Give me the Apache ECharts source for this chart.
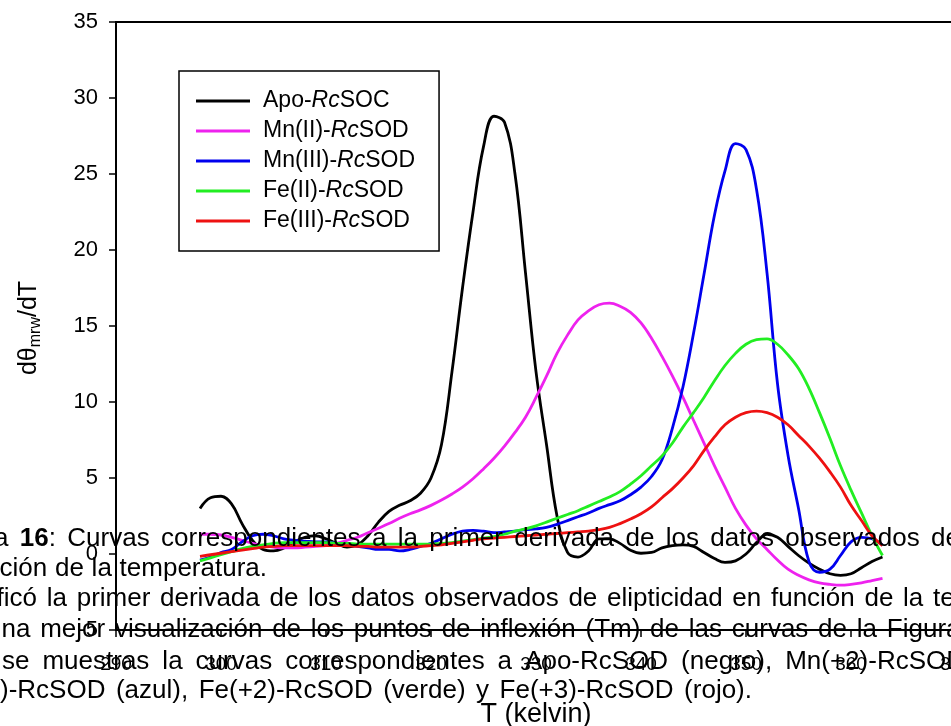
<!DOCTYPE html>
<html>
<head>
<meta charset="utf-8">
<script src="https://cdn.jsdelivr.net/npm/echarts@6/dist/echarts.min.js"></script>
<style>
  html, body { margin: 0; padding: 0; background: #fff; }
  #chart { width: 951px; height: 726px; }
</style>
</head>
<body>
<div id="chart"></div>
<script>
// Temperature grid (K) and first-derivative curves dθ/dT for each sample
const temps = [298, 299, 300, 301, 302, 303, 304, 305, 306, 307,
               308, 309, 310, 311, 312, 313, 314, 315, 316, 317,
               318, 319, 320, 321, 322, 323, 324, 325, 326, 327,
               328, 329, 330, 331, 332, 333, 334, 335, 336, 337,
               338, 339, 340, 341, 342, 343, 344, 345, 346, 347,
               348, 349, 350, 351, 352, 353, 354, 355, 356, 357,
               358, 359, 360, 361, 362, 363];

const apoRcSOC = [3.0, 3.7, 3.8, 3.3, 2.0, 0.9, 0.3, 0.2, 0.4, 0.8,
                  1.1, 1.2, 1.0, 0.7, 0.45, 0.6, 1.2, 2.1, 2.8, 3.2,
                  3.5, 4.0, 5.0, 7.2, 12.0, 17.5, 22.5, 26.8, 28.8, 28.4,
                  25.0, 18.5, 12.0, 7.2, 2.5, 0.1, -0.2, 0.2, 1.0, 1.0,
                  0.7, 0.25, 0.05, 0.1, 0.4, 0.55, 0.6, 0.5, 0.1, -0.3,
                  -0.55, -0.45, 0.0, 0.75, 1.3, 1.1, 0.5, -0.1, -0.6, -1.0,
                  -1.3, -1.4, -1.3, -0.9, -0.5, -0.2];

const mn2RcSOD = [1.3, 1.3, 1.25, 1.1, 0.9, 0.7, 0.55, 0.45, 0.4, 0.4,
                  0.45, 0.5, 0.55, 0.7, 0.9, 1.1, 1.4, 1.7, 2.0, 2.35,
                  2.65, 2.9, 3.2, 3.55, 3.95, 4.4, 4.95, 5.6, 6.3, 7.1,
                  8.0, 9.0, 10.3, 11.7, 13.2, 14.4, 15.4, 16.0, 16.4, 16.5,
                  16.3, 15.9, 15.2, 14.2, 13.0, 11.7, 10.3, 8.8, 7.3, 5.8,
                  4.4, 3.0, 1.9, 1.0, 0.3, -0.4, -1.0, -1.4, -1.7, -1.9,
                  -2.0, -2.05, -2.0, -1.9, -1.75, -1.6];

const mn3RcSOD = [-0.4, -0.2, 0.1, 0.3, 0.8, 1.2, 1.3, 1.2, 1.0, 0.9,
                  0.85, 0.8, 0.8, 0.7, 0.6, 0.5, 0.4, 0.3, 0.3, 0.2,
                  0.3, 0.5, 0.7, 1.0, 1.3, 1.5, 1.55, 1.5, 1.4, 1.45,
                  1.5, 1.6, 1.65, 1.75, 1.95, 2.2, 2.45, 2.7, 3.0, 3.25,
                  3.5, 3.9, 4.4, 5.1, 6.2, 8.3, 11.0, 14.5, 18.4, 22.3,
                  25.2, 27.0, 26.6, 24.0, 18.5, 11.2, 6.5, 3.0, -0.5, -1.2,
                  -1.0, -0.1, 0.8, 1.1, 1.0, 0.6];

const fe2RcSOD = [-0.45, -0.25, -0.05, 0.15, 0.35, 0.5, 0.6, 0.7, 0.75, 0.75,
                  0.75, 0.75, 0.75, 0.7, 0.7, 0.65, 0.65, 0.65, 0.65, 0.65,
                  0.65, 0.65, 0.65, 0.7, 0.75, 0.85, 0.95, 1.05, 1.15, 1.3,
                  1.5, 1.65, 1.85, 2.1, 2.35, 2.6, 2.85, 3.15, 3.45, 3.75,
                  4.1, 4.6, 5.15, 5.8, 6.45, 7.3, 8.35, 9.3, 10.3, 11.4,
                  12.4, 13.2, 13.8, 14.1, 14.15, 13.8, 13.1, 12.2, 10.9, 9.3,
                  7.6, 5.8, 4.2, 2.7, 1.2, -0.1];

const fe3RcSOD = [-0.15, -0.05, 0.05, 0.15, 0.25, 0.35, 0.45, 0.5, 0.55, 0.55,
                  0.55, 0.55, 0.55, 0.55, 0.55, 0.5, 0.5, 0.45, 0.45, 0.45,
                  0.45, 0.5, 0.55, 0.6, 0.7, 0.8, 0.9, 1.0, 1.05, 1.1,
                  1.15, 1.2, 1.25, 1.3, 1.35, 1.4, 1.45, 1.5, 1.6, 1.75,
                  2.0, 2.3, 2.65, 3.1, 3.7, 4.3, 5.0, 5.8, 6.8, 7.7,
                  8.5, 9.0, 9.3, 9.4, 9.3, 9.0, 8.5, 7.8, 7.1, 6.3,
                  5.4, 4.4, 3.2, 2.2, 1.2, 0.55];

const seriesNames = ['Apo-RcSOC', 'Mn(II)-RcSOD', 'Mn(III)-RcSOD', 'Fe(II)-RcSOD', 'Fe(III)-RcSOD'];
const seriesValues = [apoRcSOC, mn2RcSOD, mn3RcSOD, fe2RcSOD, fe3RcSOD];
const seriesColors = ['#000000', '#ee22ee', '#0000ee', '#22ee22', '#ee1111'];

// Caption paragraph that runs across the lower part of the figure
// ('*' marks bold runs). Each line is justified between its two edges.
const captionLines = [
  { text: 'a *16*: Curvas correspondientes a la primer derivada de los datos observados de', y: 539, x0: -6, x1: 960 },
  { text: 'ción de la temperatura.', y: 569, x0: -0.5, x1: 267 },
  { text: 'ficó la primer derivada de los datos observados de elipticidad en función de la te', y: 599, x0: -3.4, x1: 954.7 },
  { text: 'na mejor visualización de los puntos de inflexión (Tm) de las curvas de la Figura', y: 630, x0: 1.5, x1: 960.5 },
  { text: 'se muestras la curvas correspondientes a Apo-RcSOD (negro), Mn(+2)-RcSOD', y: 662, x0: 2, x1: 965 },
  { text: ')-RcSOD (azul), Fe(+2)-RcSOD (verde) y Fe(+3)-RcSOD (rojo).', y: 691, x0: 0, x1: 752 }
];

const FONT = '"Liberation Sans", Arial, Helvetica, sans-serif';
const BODY_SIZE = 26;

const measureCtx = document.createElement('canvas').getContext('2d');
function textWidth(s, bold) {
  measureCtx.font = (bold ? 'bold ' : '') + BODY_SIZE + 'px ' + FONT;
  return measureCtx.measureText(s).width;
}

function captionGraphics() {
  const out = [];
  const rich = {
    n: { fontSize: BODY_SIZE, fontFamily: FONT, fill: '#000' },
    b: { fontSize: BODY_SIZE, fontFamily: FONT, fontWeight: 'bold', fill: '#000' }
  };
  captionLines.forEach(line => {
    const words = line.text.split(' ').map(w => {
      const parts = w.split('*');
      let width = 0, str = '';
      parts.forEach((p, i) => {
        if (!p) return;
        const bold = i % 2 === 1;
        width += textWidth(p, bold);
        str += '{' + (bold ? 'b' : 'n') + '|' + p + '}';
      });
      return { width, str };
    });
    const total = words.reduce((s, w) => s + w.width, 0);
    const gap = words.length > 1 ? (line.x1 - line.x0 - total) / (words.length - 1) : 0;
    let x = line.x0;
    words.forEach(w => {
      out.push({
        type: 'text', x: x, y: line.y, z: 100, silent: true,
        style: { text: w.str, rich: rich, align: 'left', verticalAlign: 'middle',
                 fontSize: BODY_SIZE, fontFamily: FONT, fill: '#000' }
      });
      x += w.width + gap;
    });
  });
  return out;
}

function legendLabel(name) {
  const k = name.indexOf('Rc');
  return '{g|}{n|' + name.slice(0, k) + '}{i|Rc}{n|' + name.slice(k + 2) + '}';
}

const chart = echarts.init(document.getElementById('chart'), null, { renderer: 'canvas' });

chart.setOption({
  backgroundColor: '#ffffff',
  animation: false,
  grid: {
    left: 116, top: 22, width: 840, height: 608, outerBoundsMode: 'none',
    show: true, borderColor: '#000', borderWidth: 2, backgroundColor: 'transparent'
  },
  legend: {
    orient: 'vertical',
    left: 179, top: 71,
    padding: [18, 24, 18, 17],
    borderColor: '#000', borderWidth: 1.5,
    backgroundColor: '#fff',
    itemWidth: 54, itemHeight: 3, itemGap: 6,
    icon: 'rect',
    data: seriesNames,
    formatter: legendLabel,
    textStyle: {
      fontSize: 23, lineHeight: 24, color: '#000', fontFamily: FONT,
      rich: {
        g: { width: 8 },
        n: { fontSize: 23, fontFamily: FONT, color: '#000' },
        i: { fontSize: 23, fontFamily: FONT, color: '#000', fontStyle: 'italic' }
      }
    }
  },
  xAxis: {
    type: 'value', min: 290, max: 370, interval: 10,
    name: 'T (kelvin)', nameLocation: 'middle', nameGap: 71,
    nameTextStyle: { fontSize: 27, color: '#000', fontFamily: FONT },
    axisLine: { show: true, onZero: false, lineStyle: { color: '#000', width: 2 } },
    axisTick: { show: true, inside: false, length: 7, lineStyle: { color: '#000', width: 1.5 } },
    axisLabel: { fontSize: 19, color: '#000', fontFamily: FONT, margin: 25 },
    splitLine: { show: false }
  },
  yAxis: {
    type: 'value', min: -5, max: 35, interval: 5,
    axisLine: { show: true, onZero: false, lineStyle: { color: '#000', width: 2 } },
    axisTick: { show: true, inside: false, length: 7, lineStyle: { color: '#000', width: 1.5 } },
    axisLabel: { fontSize: 22, color: '#000', fontFamily: FONT, margin: 18 },
    splitLine: { show: false }
  },
  series: seriesNames.map((name, s) => ({
    name: name,
    type: 'line',
    smooth: 0.4,
    symbol: 'none',
    data: temps.map((t, i) => [t, seriesValues[s][i]]),
    lineStyle: { color: seriesColors[s], width: 2.8 },
    itemStyle: { color: seriesColors[s] },
    z: 3
  })),
  graphic: [
    {
      type: 'text', x: 29, y: 328, rotation: Math.PI / 2, z: 100, silent: true,
      style: {
        text: '{a|dθ}{s|mrw}{a|/dT}',
        align: 'center', verticalAlign: 'middle',
        rich: {
          a: { fontSize: 25, fontFamily: FONT, fill: '#000', lineHeight: 30 },
          s: { fontSize: 16, fontFamily: FONT, fill: '#000', lineHeight: 30, verticalAlign: 'bottom' }
        }
      }
    }
  ].concat(captionGraphics())
});
</script>
</body>
</html>
